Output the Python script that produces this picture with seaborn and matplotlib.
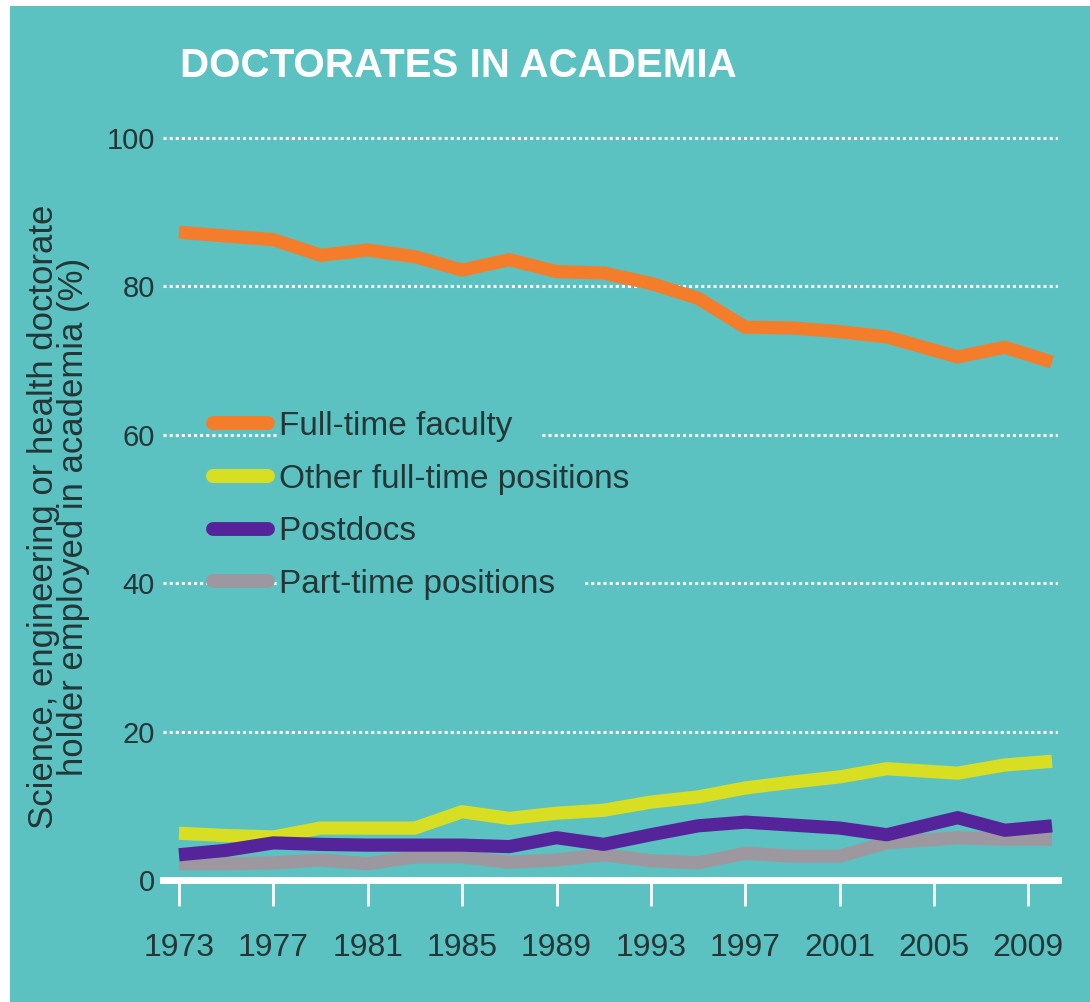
import numpy as np
import pandas as pd
import matplotlib
matplotlib.use("Agg")
import matplotlib.pyplot as plt
from matplotlib.patches import Rectangle
from matplotlib.lines import Line2D
import seaborn as sns

# Survey years (biennial, with the 2003 -> 2006 gap)
years = [1973, 1975, 1977, 1979, 1981, 1983, 1985, 1987, 1989, 1991,
         1993, 1995, 1997, 1999, 2001, 2003, 2006, 2008, 2010]

full_time_faculty = [87.3, 86.8, 86.3, 84.2, 84.9, 84.0, 82.2, 83.6, 82.0, 81.8,
                     80.4, 78.4, 74.5, 74.4, 73.9, 73.2, 70.5, 71.8, 69.8]
other_full_time = [6.3, 6.0, 5.8, 7.0, 7.0, 7.0, 9.2, 8.3, 9.0, 9.4,
                   10.5, 11.2, 12.4, 13.2, 13.9, 15.0, 14.4, 15.5, 16.0]
postdocs = [3.4, 4.0, 5.0, 4.8, 4.7, 4.7, 4.7, 4.5, 5.7, 4.8,
            6.1, 7.3, 7.8, 7.4, 7.0, 6.1, 8.4, 6.7, 7.3]
part_time = [2.2, 2.2, 2.3, 2.7, 2.2, 3.1, 3.1, 2.4, 2.7, 3.4,
             2.6, 2.3, 3.6, 3.2, 3.2, 5.0, 5.7, 5.5, 5.5]

series_names = ["Full-time faculty", "Other full-time positions", "Postdocs", "Part-time positions"]
colors = ["#f47d2c", "#d8df22", "#55249a", "#9d98a0"]
xticks = [1973, 1977, 1981, 1985, 1989, 1993, 1997, 2001, 2005, 2009]
yticks = [0, 20, 40, 60, 80, 100]

teal = "#5bc2c1"
ink = "#243637"

df = pd.DataFrame({
    "year": years * 4,
    "value": full_time_faculty + other_full_time + postdocs + part_time,
    "series": np.repeat(series_names, len(years)),
})

W, H = 1090, 1002
fig = plt.figure(figsize=(W / 100, H / 100), dpi=100, facecolor="white")
fig.add_artist(Rectangle((10 / W, 0), 1 - 10 / W, 996 / H, transform=fig.transFigure,
                         facecolor=teal, edgecolor="none", zorder=-10))

# axes placement: y=0 at 880px, y=100 at 138px
ymax = 102
px_per = (880 - 138) / 100
ax_top = 880 - ymax * px_per
ax = fig.add_axes([163 / W, (H - 880) / H, (1058 - 163) / W, (880 - ax_top) / H])
ax.set_facecolor("none")

sns.lineplot(data=df, x="year", y="value", hue="series", hue_order=series_names,
             palette=colors, linewidth=9.5, legend=False, ax=ax)
# draw order: part-time at the back, faculty on top
for line, z in zip(ax.lines, [5, 3, 4, 2]):
    line.set_zorder(z)
    line.set_solid_capstyle("butt")

ax.set_xlim(1973 - 16 / 23.6, 2010 + 6 / 23.6)
ax.set_ylim(0, ymax)
ax.set_xticks(xticks)
ax.set_yticks(yticks)

for s in ["top", "right", "left"]:
    ax.spines[s].set_visible(False)
ax.spines["bottom"].set_color("white")
ax.spines["bottom"].set_linewidth(5)
ax.spines["bottom"].set_zorder(6)

ax.grid(axis="y", color="white", linestyle=(0, (1, 1)), linewidth=2.2)
ax.grid(axis="x", visible=False)
ax.set_axisbelow(True)

ax.tick_params(axis="x", colors="white", length=19, width=2, direction="out", pad=19,
               labelcolor=ink, labelsize=23)
ax.tick_params(axis="y", length=0, pad=6, labelcolor=ink, labelsize=21)
for lab in ax.get_xticklabels() + ax.get_yticklabels():
    lab.set_family("Liberation Sans")

ax.set_xlabel("")
ax.set_ylabel("Science, engineering or health doctorate\nholder employed in academia (%)",
              fontsize=25, color=ink, family="Liberation Sans", linespacing=0.9)
ax.yaxis.set_label_coords(-(163 - 90) / (1058 - 163), (880 - 517) / (880 - ax_top))

# legend
handles = [Line2D([0], [0], color=c, linewidth=10, solid_capstyle="round") for c in colors]
leg = ax.legend(handles, [n + "   " for n in series_names], loc="upper left",
                bbox_to_anchor=(213 / W, 1 - 411 / H), bbox_transform=fig.transFigure,
                frameon=False, borderpad=0, borderaxespad=0, handlelength=1.65,
                handletextpad=0.33, labelspacing=0.65,
                prop={"family": "Liberation Sans", "size": 24})
leg.set_zorder(7)
for t in leg.get_texts():
    t.set_color(ink)
    t.set_bbox(dict(facecolor=teal, edgecolor="none", boxstyle="square,pad=0.05"))

fig.text(180 / W, 1 - 66 / H, "DOCTORATES IN ACADEMIA", color="white", fontsize=29,
         fontweight="bold", family="Liberation Sans", va="center", ha="left")

fig.savefig("out.png", dpi=100, facecolor="white")
